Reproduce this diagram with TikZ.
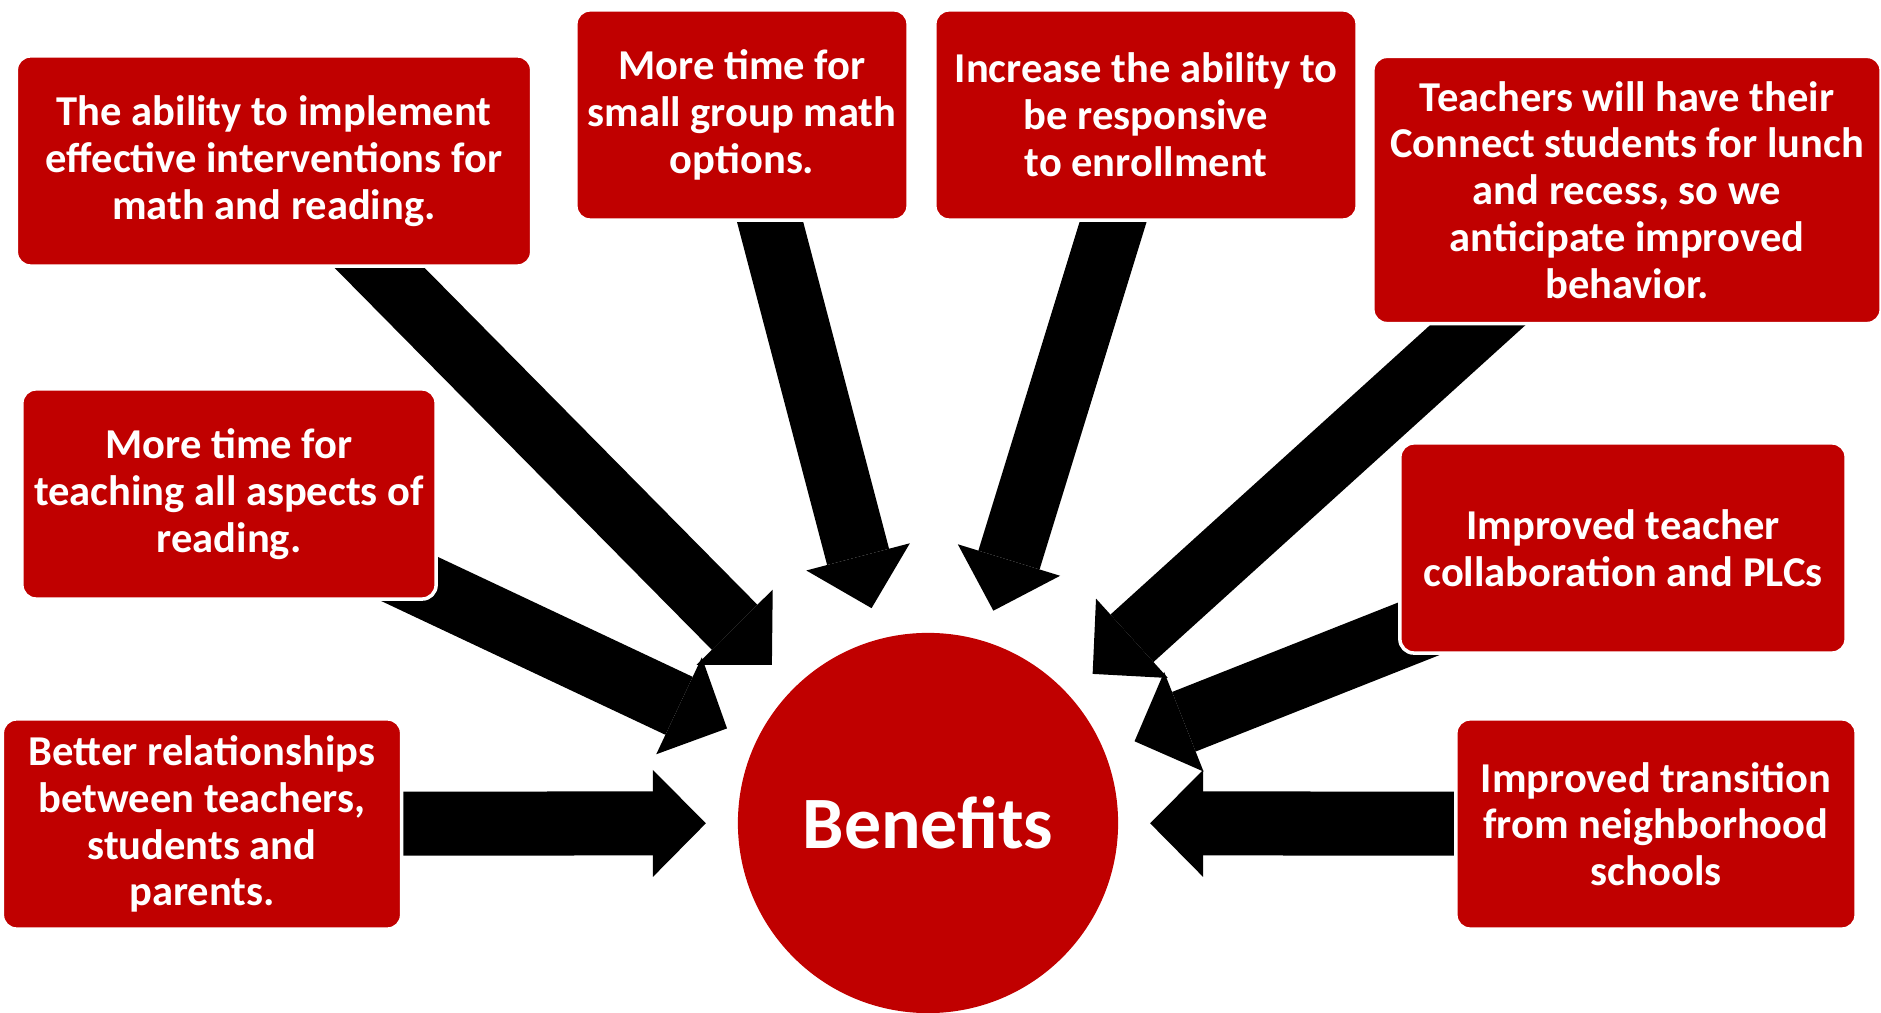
\documentclass[tikz,border=0pt]{standalone}
\usepackage{fontspec}
\setmainfont{Carlito}
\usetikzlibrary{arrows.meta, calc}
\definecolor{benefitred}{RGB}{192,0,0}
\pgfdeclarelayer{back}
\pgfsetlayers{back,main}

\tikzset{
  reason/.style={draw=white, line width=1pt, fill=benefitred, rounded corners=0.14cm,
    text=white, font=\bfseries\fontsize{12.1}{13.3}\selectfont, align=center, inner sep=0pt,
    minimum height=2.1cm},
  bigarrow/.style={line width=0.64cm, -{Triangle[width=1.07cm, length=0.53cm, line width=0pt]}},
}

\begin{document}
\begin{tikzpicture}[x=0.01cm, y=-0.01cm]
  \useasboundingbox (0,0) rectangle (1881,1013);

  % The circle in the middle
  \node[circle, fill=benefitred, minimum size=3.8cm, inner sep=0pt, text=white,
    font=\bfseries\fontsize{21}{25}\selectfont] (ben) at (928,823) {Benefits};

  % The boxes round it
  \node[reason, minimum width=5.15cm] (inter) at (274,161) {The ability to implement\\effective interventions for\\math and reading.};
  \node[reason, minimum width=3.32cm] (group) at (742,115) {More time for\\small group math\\options.};
  \node[reason, minimum width=4.22cm] (enrol) at (1146,115) {Increase the ability to\\be responsive\\to enrollment};
  \node[reason, minimum width=5.08cm, minimum height=2.67cm] (lunch) at (1627,190) {Teachers will have their\\Connect students for lunch\\and recess, so we\\anticipate improved\\behavior.};
  \node[reason, minimum width=4.14cm] (read) at (229,494) {More time for\\teaching all aspects of\\reading.};
  \node[reason, minimum width=4.46cm] (plc) at (1623,548) {Improved teacher\\collaboration and PLCs};
  \node[reason, minimum width=3.99cm] (bond) at (202,824) {Better relationships\\between teachers,\\students and\\parents.};
  \node[reason, minimum width=4.00cm] (trans) at (1656,824) {Improved transition\\from neighborhood\\schools};

  % The arrows, behind the boxes
  \begin{pgfonlayer}{back}
    \foreach \b in {inter,group,enrol,lunch,read,plc,bond,trans}
      \draw[bigarrow] (\b.center) -- ($(ben.center)!2.22cm!(\b.center)$);
  \end{pgfonlayer}
\end{tikzpicture}
\end{document}
